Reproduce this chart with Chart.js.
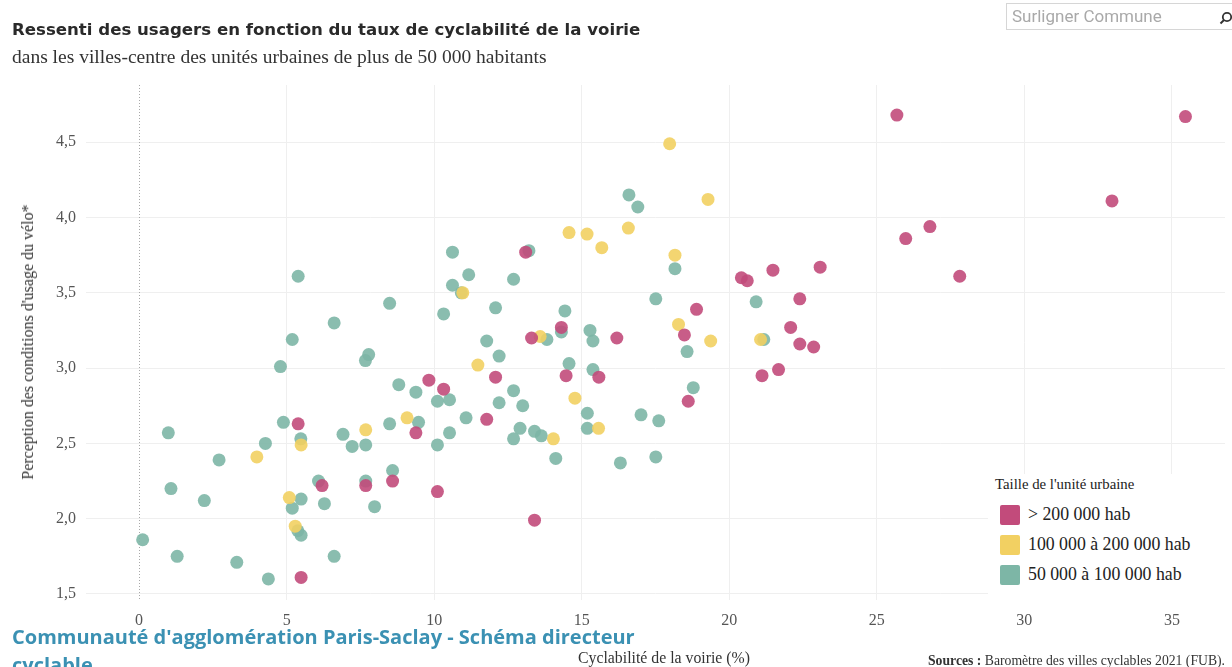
<!DOCTYPE html>
<html lang="fr">
<head>
<meta charset="utf-8">
<title>Ressenti des usagers et cyclabilité de la voirie</title>
<script src="https://cdn.jsdelivr.net/npm/chart.js@4/dist/chart.umd.min.js"></script>
<style>
  html, body { margin: 0; padding: 0; background: #fff; overflow: hidden; }
  #wrap { position: relative; width: 1232px; height: 667px; }
  #chart { position: absolute; left: 0; top: 0; }
  .t { position: absolute; white-space: nowrap; }
  #title { left: 12px; top: 20px; font: bold 16.6px "DejaVu Sans", sans-serif; color: #2a2a2a; }
  #subtitle { left: 12px; top: 46px; font: 19.5px "Liberation Serif", serif; color: #333; }
  #search { position: absolute; left: 1006px; top: 3px; width: 240px; height: 27px; border: 1px solid #d6d6d6; box-sizing: border-box; }
  #search span { position: absolute; left: 5px; top: 2px; font: 17px Roboto, sans-serif; color: #a9a9a9; }
  #search svg { position: absolute; left: 212px; top: 7px; }
  #ytitle { left: 28px; top: 342px; font: 16px "Liberation Serif", serif; color: #333; transform: translate(-50%, -50%) rotate(-90deg); }
  #xtitle { left: 664px; top: 649px; font: 15.8px "Liberation Serif", serif; color: #333; transform: translateX(-50%); }
  #sources { left: 928px; top: 653px; font: 13.7px "Liberation Serif", serif; color: #333; }
  #legend { position: absolute; left: 988px; top: 474px; width: 244px; height: 126px; background: #fff; }
  #legend .lt { position: absolute; left: 7px; top: 2px; font: 14.8px "Liberation Serif", serif; color: #222; }
  .li { position: absolute; left: 12px; height: 21px; }
  .li i { position: absolute; left: 0; top: 0; width: 20px; height: 20px; border-radius: 2px; }
  .li b { position: absolute; left: 28px; top: -1px; font: normal 17.8px "Liberation Serif", serif; color: #222; white-space: nowrap; }
  #note { left: 12px; top: 623px; font: bold 20px "Open Sans", sans-serif; color: #3b91b3; line-height: 28px; }
</style>
</head>
<body>
<div id="wrap">
  <canvas id="chart" width="1232" height="667"></canvas>
  <div class="t" id="title">Ressenti des usagers en fonction du taux de cyclabilité de la voirie</div>
  <div class="t" id="subtitle">dans les villes-centre des unités urbaines de plus de 50 000 habitants</div>
  <div id="search"><span>Surligner Commune</span>
    <svg width="14" height="14" viewBox="0 0 14 14"><circle cx="8" cy="6" r="4.2" fill="none" stroke="#333" stroke-width="1.8"/><line x1="5" y1="9" x2="1.5" y2="12.5" stroke="#333" stroke-width="2"/></svg>
  </div>
  <div class="t" id="ytitle">Perception des conditions d'usage du vélo*</div>
  <div class="t" id="xtitle">Cyclabilité de la voirie (%)</div>
  <div class="t" id="sources"><b>Sources :</b> Baromètre des villes cyclables 2021 (FUB).</div>
  <div id="legend"><div class="lt">Taille de l'unité urbaine</div></div>
  <div class="t" id="note">Communauté d'agglomération Paris-Saclay - Schéma directeur<br>cyclable</div>
</div>
<script>
// Villes-centre des unités urbaines de plus de 200 000 habitants
const grandesX = [5.39, 5.49, 6.20, 7.68, 8.59, 9.38, 9.82, 10.32, 10.11, 11.78, 12.08, 13.10, 13.30, 13.40,
  14.31, 14.47, 15.58, 16.19, 18.48, 18.89, 18.61, 20.41, 20.61, 21.48, 22.39, 22.08, 22.39, 22.86,
  21.11, 21.67, 23.08, 25.68, 35.46, 32.97, 26.80, 25.98, 27.81];
const grandesY = [2.63, 1.61, 2.22, 2.22, 2.25, 2.57, 2.92, 2.86, 2.18, 2.66, 2.94, 3.77, 3.20, 1.99,
  3.27, 2.95, 2.94, 3.20, 3.22, 3.39, 2.78, 3.60, 3.58, 3.65, 3.46, 3.27, 3.16, 3.14,
  2.95, 2.99, 3.67, 4.68, 4.67, 4.11, 3.94, 3.86, 3.61];

// De 100 000 à 200 000 habitants
const moyennesX = [3.99, 5.09, 5.29, 5.49, 7.68, 9.08, 10.97, 11.48, 13.59, 14.04, 14.57, 14.77, 15.18,
  15.57, 15.68, 16.58, 17.98, 18.16, 18.28, 19.28, 19.37, 21.06];
const moyennesY = [2.41, 2.14, 1.95, 2.49, 2.59, 2.67, 3.50, 3.02, 3.21, 2.53, 3.90, 2.80, 3.89,
  2.60, 3.80, 3.93, 4.49, 3.75, 3.29, 4.12, 3.18, 3.19];

// De 50 000 à 100 000 habitants
const petitesX = [0.12, 0.99, 1.08, 1.29, 2.21, 2.71, 3.31, 4.28, 4.38, 4.79, 4.89, 5.19, 5.19, 5.39,
  5.48, 5.49, 5.38, 5.49, 6.08, 6.28, 6.61, 6.61, 6.91, 7.22, 7.67, 7.78, 7.68, 7.68, 7.98, 8.49,
  8.49, 8.59, 8.80, 9.38, 9.47, 10.11, 10.52, 10.11, 10.52, 10.62, 10.62, 10.32, 10.92, 11.17,
  11.08, 11.78, 12.08, 12.20, 12.20, 12.69, 12.69, 13.00, 12.91, 12.69, 13.21, 13.40, 13.63,
  13.82, 14.12, 14.31, 14.43, 14.57, 15.19, 15.19, 15.28, 15.38, 15.38, 16.31, 16.60, 16.90,
  17.01, 17.51, 17.61, 17.51, 18.16, 18.57, 18.78, 20.91, 21.17];
const petitesY = [1.86, 2.57, 2.20, 1.75, 2.12, 2.39, 1.71, 2.50, 1.60, 3.01, 2.64, 3.19, 2.07, 3.61,
  2.53, 2.13, 1.92, 1.89, 2.25, 2.10, 3.30, 1.75, 2.56, 2.48, 3.05, 3.09, 2.49, 2.25, 2.08, 3.43,
  2.63, 2.32, 2.89, 2.84, 2.64, 2.78, 2.79, 2.49, 2.57, 3.77, 3.55, 3.36, 3.50, 3.62,
  2.67, 3.18, 3.40, 3.08, 2.77, 3.59, 2.85, 2.75, 2.60, 2.53, 3.78, 2.58, 2.55,
  3.19, 2.40, 3.24, 3.38, 3.03, 2.70, 2.60, 3.25, 3.18, 2.99, 2.37, 4.15, 4.07,
  2.69, 3.46, 2.65, 2.41, 3.66, 3.11, 2.87, 3.44, 3.19];

const seriesNames = ['> 200 000 hab', '100 000 à 200 000 hab', '50 000 à 100 000 hab'];
const seriesColors = ['#c24b7b', '#f2d062', '#7db6a6'];

const xTicks = [0, 5, 10, 15, 20, 25, 30, 35];
const yTicks = [1.5, 2.0, 2.5, 3.0, 3.5, 4.0, 4.5];

const pairs = (xs, ys) => xs.map((x, i) => ({ x, y: ys[i] }));
const seriesData = [pairs(grandesX, grandesY), pairs(moyennesX, moyennesY), pairs(petitesX, petitesY)];

// Legend
const legend = document.getElementById('legend');
seriesNames.forEach((name, i) => {
  const row = document.createElement('div');
  row.className = 'li';
  row.style.top = (31 + i * 30) + 'px';
  row.innerHTML = '<i style="background:' + seriesColors[i] + '"></i><b>' + name + '</b>';
  legend.appendChild(row);
});

// Dotted reference line at x = 0
const zeroLine = {
  id: 'zeroLine',
  beforeDatasetsDraw(chart) {
    const { ctx, chartArea, scales } = chart;
    const px = Math.round(scales.x.getPixelForValue(0)) + 0.5;
    ctx.save();
    ctx.strokeStyle = '#a8a8a8';
    ctx.lineWidth = 1;
    ctx.setLineDash([1, 2]);
    ctx.beginPath();
    ctx.moveTo(px, chartArea.top);
    ctx.lineTo(px, chartArea.bottom);
    ctx.stroke();
    ctx.restore();
  }
};

const tickFont = { family: '"Liberation Serif", serif', size: 16 };

new Chart(document.getElementById('chart'), {
  type: 'scatter',
  data: {
    datasets: seriesData.map((d, i) => ({
      label: seriesNames[i],
      data: d,
      backgroundColor: seriesColors[i] + 'e6',
      borderWidth: 0,
      pointRadius: 6.5,
      pointHoverRadius: 7
    }))
  },
  options: {
    responsive: false,
    animation: false,
    layout: { padding: { top: 85, right: 0, left: 0, bottom: 0 } },
    plugins: { legend: { display: false }, tooltip: { enabled: false } },
    scales: {
      x: {
        type: 'linear',
        min: -1.8,
        max: 36.8,
        afterBuildTicks: s => { s.ticks = xTicks.map(v => ({ value: v })); },
        afterFit: s => { s.height = 67; },
        grid: {
          color: ctx => (ctx.tick && ctx.tick.value === 0) ? 'rgba(0,0,0,0)' : '#efefef',
          drawTicks: false
        },
        border: { display: false },
        ticks: { font: tickFont, color: '#555', padding: 11, callback: v => String(v) }
      },
      y: {
        type: 'linear',
        min: 1.46,
        max: 4.88,
        afterBuildTicks: s => { s.ticks = yTicks.map(v => ({ value: v })); },
        afterFit: s => { s.width = 86; },
        grid: { color: '#efefef', drawTicks: false },
        border: { display: false },
        ticks: { font: tickFont, color: '#555', padding: 10, callback: v => v.toFixed(1).replace('.', ',') }
      }
    }
  },
  plugins: [zeroLine]
});
</script>
</body>
</html>
